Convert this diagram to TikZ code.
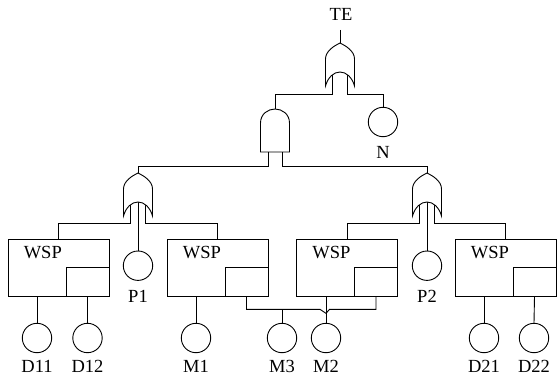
\documentclass[tikz,border=0pt]{standalone}
\usepackage{fontspec}
\setmainfont{Liberation Serif}
\usetikzlibrary{backgrounds,calc}
\begin{document}
\begin{tikzpicture}[x=1pt,y=-1pt,line width=0.9pt,
  evt/.style={draw,circle,minimum size=29.4pt,inner sep=0pt},
  wspbox/.style={draw,minimum width=101pt,minimum height=57pt,inner sep=0pt},
  sparebox/.style={draw,minimum width=43pt,minimum height=29pt,inner sep=0pt},
  lbl/.style={inner sep=0pt,font=\fontsize{18.5}{22}\selectfont},
  orgate/.pic={
    \coordinate (-out) at (0,0);
    \coordinate (-in1) at (-7.5,25);
    \coordinate (-in2) at (0,25);
    \coordinate (-in3) at (7,25);
    \filldraw[fill=white] (-14.5,43) -- (-14.5,16)
      .. controls (-14.5,8) and (-6,3) .. (0,0)
      .. controls (6,3) and (14.5,8) .. (14.5,16) -- (14.5,43)
      .. controls (12,34) and (6,29) .. (0,29)
      .. controls (-6,29) and (-12,34) .. (-14.5,43) -- cycle;
  },
  andgate/.pic={
    \coordinate (-out) at (0,0);
    \coordinate (-in1) at (-7,30);
    \coordinate (-in2) at (7,30);
    \filldraw[fill=white] (-14.5,43) -- (-14.5,14)
      .. controls (-14.5,5) and (-7,0) .. (0,0)
      .. controls (7,0) and (14.5,5) .. (14.5,14) -- (14.5,43) -- cycle;
  }]
\useasboundingbox (0,0) rectangle (557,377);

% top
\node[lbl,anchor=base] (TE) at (341,20.7) {TE};
\coordinate (TEc) at (340,30);
\pic (G0) at (340,43) {orgate};
\node[evt] (N) at (383,122) {};
\node[lbl,anchor=base] (Nt) at (383,159) {N};
\pic (A) at (275,109) {andgate};
\pic (G1) at (138,173) {orgate};
\pic (G2) at (427,173) {orgate};

% P events
\node[evt] (P1) at (138,265.7) {};
\node[lbl,anchor=base] (P1t) at (138,302.5) {P1};
\node[evt] (P2) at (427,265.7) {};
\node[lbl,anchor=base] (P2t) at (427,302.5) {P2};

% WSP boxes
\node[wspbox] (W1) at (58.5,267.5) {};
\node[wspbox] (W2) at (217.5,267.5) {};
\node[wspbox] (W3) at (347,267.5) {};
\node[wspbox] (W4) at (505.5,267.5) {};
\foreach \w in {W1,W2,W3,W4}{
  \node[sparebox,anchor=south east] (\w s) at (\w.south east) {};
}
\node[lbl,anchor=base west] (W1t) at (23.3,258.3) {WSP};
\node[lbl,anchor=base west] (W2t) at (182.5,258.3) {WSP};
\node[lbl,anchor=base west] (W3t) at (312,258.3) {WSP};
\node[lbl,anchor=base west] (W4t) at (470.5,258.3) {WSP};

% basic events
\foreach \n/\x in {D11/37,D12/87.5,M1/196,M3/282,M2/326,D21/484,D22/534}{
  \node[evt] (\n) at (\x,338) {};
  \node[lbl,anchor=base] (\n t) at (\x,372.5) {\n};
}

\begin{scope}[on background layer]
\draw (TEc) -- (G0-out);
\draw (G0-in1) |- ($(A-out)+(0,-15)$) -- (A-out);
\draw (G0-in3) |- ($(N.north)+(0,-13)$) -- (N.north);
\draw (A-in1) |- ($(G1-out)+(0,-7)$) -- (G1-out);
\draw (A-in2) |- ($(G2-out)+(0,-7)$) -- (G2-out);
\draw (G1-in1) |- ($(W1.north)+(0,-15)$) -- (W1.north);
\draw (G1-in2) -- (P1.north);
\draw (G1-in3) |- ($(W2.north)+(0,-15)$) -- (W2.north);
\draw (G2-in1) |- ($(W3.north)+(0,-15)$) -- (W3.north);
\draw (G2-in2) -- (P2.north);
\draw (G2-in3) |- ($(W4.north)+(0,-15)$) -- (W4.north);
\end{scope}

\draw (W1.south -| D11) -- (D11.north);
\draw (W1s.south) -- (D12.north);
\draw (W2.south -| M1) -- (M1.north);
\draw (W3.south -| M2) -- (M2.north);
\draw (W4.south -| D21) -- (D21.north);
\draw (W4s.south) -- (D22.north);
\draw (W2s.south) |- ($(M2.north)+(-6,-13.5)$) -- ($(M2.north)+(0,-9.5)$)
  -- ($(M2.north)+(3.5,-13.5)$) -| (W3s.south);
\draw (M3.north) -- ($(M3.north)+(0,-13.5)$);
\end{tikzpicture}
\end{document}
